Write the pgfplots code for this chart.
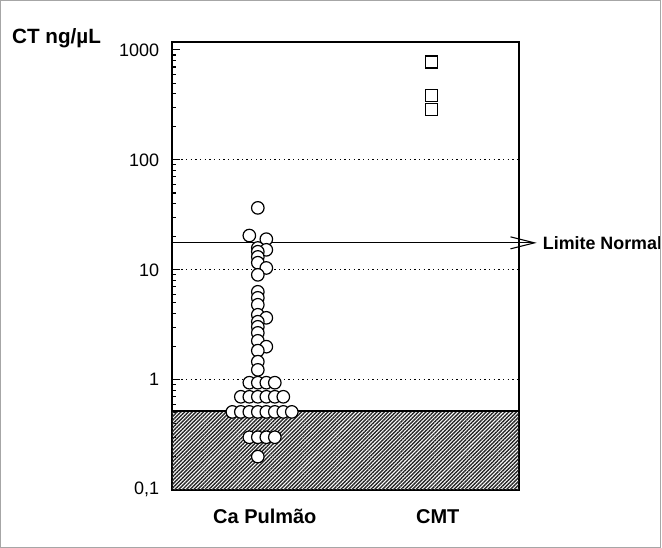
\documentclass[border=0pt]{standalone}
\usepackage{fontspec}
\setmainfont{Liberation Sans}
\usepackage{pgfplots}
\pgfplotsset{compat=1.18}
\usetikzlibrary{patterns.meta, arrows.meta}

\begin{document}
\begin{tikzpicture}
\begin{axis}[
  scale only axis,
  width=260.25pt, height=336pt,
  xmin=0, xmax=347,
  ymode=log, ymin=0.1, ymax=1183,
  axis line style={line width=1.4pt},
  xtick={93,266}, xticklabels={Ca Pulmão, CMT},
  x tick label style={font=\fontsize{15}{17}\selectfont\bfseries, yshift=-11pt},
  major x tick style={draw=none},
  ytick={0.1,1,10,100,1000},
  yticklabels={{0,1},1,10,100,1000},
  y tick label style={font=\fontsize{13.5}{15}\selectfont, xshift=-6pt},
  /pgf/number format/assume math mode=true,
  ytick pos=left, tick align=inside,
  major tick length=6pt, minor tick length=3pt,
  every tick/.style={black, line width=0.8pt},
  clip=false,
]
% dotted reference lines
\addplot[black, line width=0.8pt, dash pattern=on 1pt off 2.5pt] coordinates {(0,1) (347,1)};
\addplot[black, line width=0.8pt, dash pattern=on 1pt off 2.5pt] coordinates {(0,10) (347,10)};
\addplot[black, line width=0.8pt, dash pattern=on 1pt off 2.5pt] coordinates {(0,100) (347,100)};

% Ca Pulmao
\addplot[only marks, mark=*, mark size=4.7pt,
  mark options={fill=white, draw=black, line width=0.9pt}] coordinates {
  (86,36.6) (77.5,20.5) (94.5,19.0) (86,15.8) (94.5,15.2) (86,14.6)
  (86,13.1) (86,11.6) (94.5,10.4) (86,9.0) (86,6.31) (86,5.56) (86,4.81)
  (86,3.90) (94.5,3.66) (86,3.37) (86,3.03) (86,2.67) (86,2.26) (94.5,2.0)
  (86,1.84) (86,1.46) (86,1.23)
  (77.5,0.94) (86,0.94) (94.5,0.94) (103,0.94)
  (69,0.70) (77.5,0.70) (86,0.70) (94.5,0.70) (103,0.70) (111.5,0.70)
  (60.5,0.51) (69,0.51) (77.5,0.51) (86,0.51) (94.5,0.51) (103,0.51) (111.5,0.51) (120,0.51)
  (77.5,0.30) (86,0.30) (94.5,0.30) (103,0.30)
  (86,0.20)
};

% hatched band below normal range
\addplot[draw=none, pattern={Lines[angle=45, distance=2pt, line width=1.05pt]}, pattern color=black!85]
  coordinates {(0,0.1) (0,0.52) (347,0.52) (347,0.1)};
\addplot[black, line width=1pt] coordinates {(0,0.52) (347,0.52)};

% CMT
\addplot[only marks, mark=square, mark size=4.5pt, mark options={draw=black, line width=0.9pt}]
  coordinates {(260,778) (260,384) (260,285)};

% Limite Normal
\addplot[black, line width=0.8pt, -{Straight Barb[length=18pt, width=9pt]}]
  coordinates {(0,17.6) (365,17.6)};
\node[anchor=west, inner sep=0pt, font=\fontsize{13.4}{15}\selectfont\bfseries] at (axis cs:371,17.6) {Limite Normal};

\node[anchor=west, inner sep=0pt, font=\fontsize{15.5}{17}\selectfont\bfseries, xshift=-120pt, yshift=3pt]
  at (rel axis cs:0,1) {CT ng/µL};

\coordinate (O) at (rel axis cs:0,0);
\end{axis}
\draw[gray!70, line width=0.75pt] ([shift={(-128.6pt,-43.1pt)}]O) rectangle ([shift={(366.4pt,367.1pt)}]O);
\end{tikzpicture}
\end{document}
